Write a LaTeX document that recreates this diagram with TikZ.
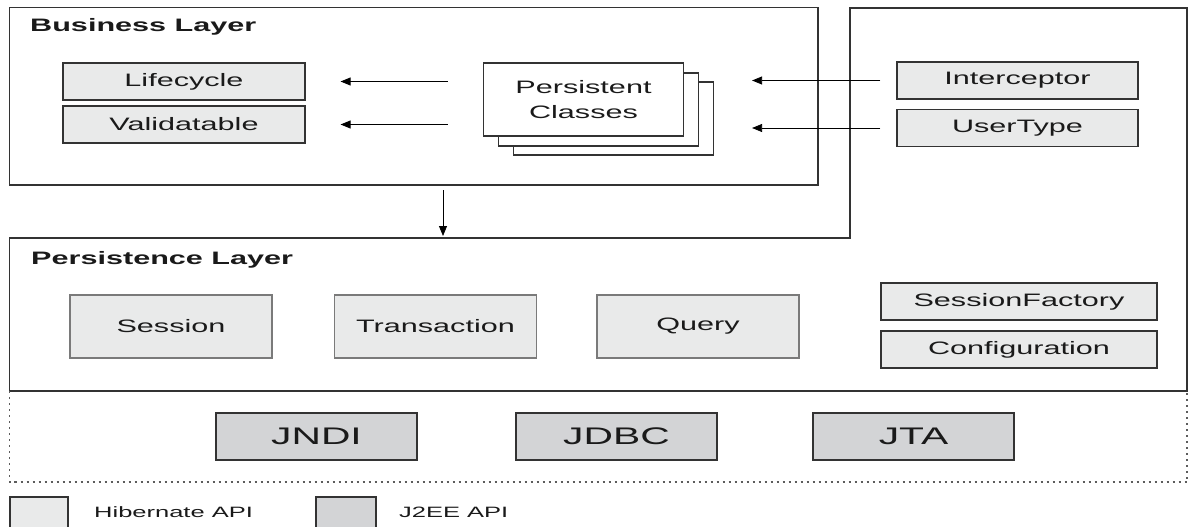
\documentclass[tikz,border=0pt]{standalone}
\usepackage{fontspec}
\setmainfont{Liberation Sans}[FakeStretch=1.7]
\usetikzlibrary{arrows.meta}
\definecolor{lightfill}{HTML}{E9EAEA}
\definecolor{darkfill}{HTML}{D3D4D6}
\definecolor{edge}{HTML}{333333}
\definecolor{softedge}{HTML}{7A7A7A}
\definecolor{txt}{HTML}{1A1A1A}
\begin{document}
\begin{tikzpicture}[x=1pt,y=-1pt,
  hbox/.style={draw=edge, fill=lightfill, line width=1.2pt, inner sep=0pt, text=txt,
    font=\fontsize{18}{22}\selectfont},
  sbox/.style={hbox, draw=softedge, minimum width=202pt, minimum height=63pt},
  jbox/.style={draw=edge, fill=darkfill, line width=1.2pt, inner sep=0pt, text=txt,
    font=\fontsize{24}{28}\selectfont, minimum width=201pt, minimum height=47pt},
  pcbox/.style={draw=edge, fill=white, line width=1.2pt, inner sep=0pt,
    minimum width=200pt, minimum height=73pt},
  layer/.style={draw=edge, line width=1.2pt},
  title/.style={anchor=base west, inner sep=0pt, text=txt, font=\bfseries\fontsize{18}{22}\selectfont},
  legtext/.style={anchor=base west, inner sep=0pt, text=txt, font=\fontsize{15}{18}\selectfont},
  arr/.style={-{Triangle[length=10pt,width=8pt]}, line width=0.8pt, draw=black}]
\useasboundingbox (0,0) rectangle (1189,527);
\clip (0,0) rectangle (1189,527);

% layers
\draw[layer] (9.5,7.5) rectangle (818,185);
\draw[layer] (9.5,238) -- (850,238) -- (850,8) -- (1187,8) -- (1187,391) -- (9.5,391) -- cycle;
\draw[draw=edge!80, line width=1.1pt, dash pattern=on 2pt off 4pt]
  (9.5,391) -- (9.5,482) -- (1187,482) -- (1187,391);

\node[title] (bt) at (30,32) {Business Layer};
\node[title] (pt) at (31,264) {Persistence Layer};

% business layer
\node[hbox, minimum width=242pt, minimum height=37pt] (life) at (184,81.5) {Lifecycle};
\node[hbox, minimum width=242pt, minimum height=37pt] (vali) at (184,124.5) {Validatable};

\node[pcbox] (pc3) at (613.5,118.5) {};
\node[pcbox] (pc2) at (598.5,109.5) {};
\node[pcbox, align=center, text=txt, font=\fontsize{18}{25}\selectfont] (pc) at (583.5,99.5) {Persistent\\Classes};

\node[hbox, minimum width=241pt, minimum height=37pt] (inter) at (1017.5,80.5) {Interceptor};
\node[hbox, minimum width=241pt, minimum height=37pt] (user) at (1017.5,128) {UserType};

\draw[arr, shorten <=35pt, shorten >=35pt] (pc.west |- life.east) -- (life.east);
\draw[arr, shorten <=35pt, shorten >=35pt] (pc.west |- vali.east) -- (vali.east);
\draw[arr, shorten <=16pt, shorten >=38pt] (inter.west) -- (pc3.east |- inter.west);
\draw[arr, shorten <=16pt, shorten >=38pt] (user.west) -- (pc3.east |- user.west);

\coordinate (down1) at (443,185);
\coordinate (down2) at (443,238);
\draw[arr, shorten <=5pt, shorten >=2pt] (down1) -- (down2);

% persistence layer
\node[sbox] (sess) at (171,326.5) {Session};
\node[sbox] (tran) at (435.5,326.5) {Transaction};
\node[sbox] (query) at (698,326.5) {Query};
\node[hbox, minimum width=276pt, minimum height=37pt] (sf) at (1019,301.5) {SessionFactory};
\node[hbox, minimum width=276pt, minimum height=37pt] (conf) at (1019,349.5) {Configuration};

% J2EE
\node[jbox] (jndi) at (316.5,436.5) {JNDI};
\node[jbox] (jdbc) at (616.5,436.5) {JDBC};
\node[jbox] (jta) at (913.5,436.5) {JTA};

% legend
\node[draw=edge, fill=lightfill, line width=1.2pt, minimum width=58pt, minimum height=40pt, inner sep=0pt] (lh) at (39,517) {};
\node[legtext] (lht) at (94,517) {Hibernate API};
\node[draw=edge, fill=darkfill, line width=1.2pt, minimum width=60pt, minimum height=40pt, inner sep=0pt] (lj) at (346,517) {};
\node[legtext] (ljt) at (399,517) {J2EE API};
\end{tikzpicture}
\end{document}
